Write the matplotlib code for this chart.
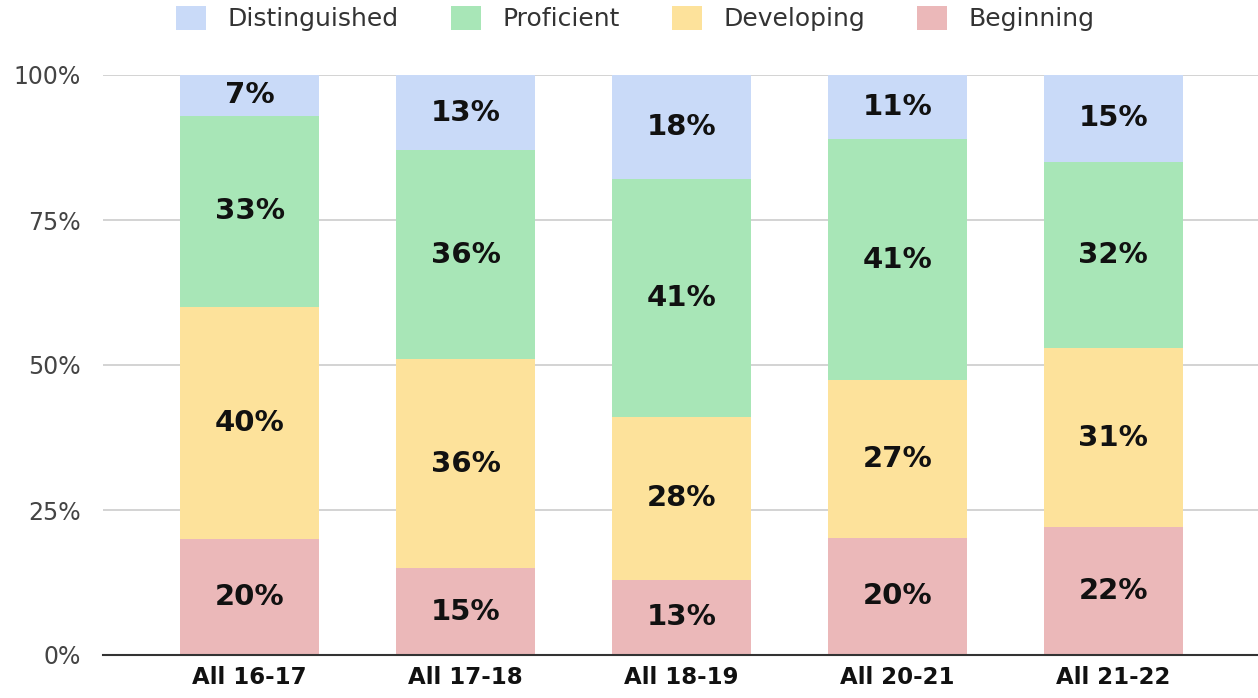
import matplotlib.pyplot as plt
import numpy as np

plt.rcParams['font.family'] = ['DejaVu Sans']

years = ['All 16-17', 'All 17-18', 'All 18-19', 'All 20-21', 'All 21-22']
levels = ['Distinguished', 'Proficient', 'Developing', 'Beginning']
beginning = [20, 15, 13, 20, 22]
developing = [40, 36, 28, 27, 31]
proficient = [33, 36, 41, 41, 32]
distinguished = [7, 13, 18, 11, 15]
colors = {'Distinguished': '#c9daf8', 'Proficient': '#a8e6b7',
          'Developing': '#fde29b', 'Beginning': '#ebb8b9'}

fig = plt.figure(figsize=(12.58, 6.98), dpi=100)
ax = fig.add_axes([103/1258, 1-655/698, 1155/1258, 580/698])

x = np.arange(len(years))
stack = [('Beginning', beginning), ('Developing', developing),
         ('Proficient', proficient), ('Distinguished', distinguished)]
totals = np.sum([s for _, s in stack], axis=0)
bottom = np.zeros(len(years))
handles = {}
for name, vals in stack:
    vals = np.array(vals, dtype=float)
    h = vals / totals * 100  # 100% stacked
    b = ax.bar(x, h, 0.644, bottom=bottom, color=colors[name], label=name, zorder=2)
    handles[name] = b
    for xi, bi, hi, v in zip(x, bottom, h, vals):
        ax.text(xi, bi + hi/2, '%d%%' % v, ha='center', va='center',
                fontsize=21, fontweight='bold', color='#111111', zorder=3)
    bottom += h

ax.set_xlim(-0.68, 4.67)
ax.set_ylim(0, 100)
ax.set_yticks([0, 25, 50, 75, 100])
ax.set_yticklabels(['0%', '25%', '50%', '75%', '100%'], fontsize=17, color='#444444')
ax.set_xticks(x)
ax.set_xticklabels(years, fontsize=16.5, fontweight='bold', color='#111111')
ax.tick_params(length=0, pad=8)
ax.tick_params(axis='y', pad=16)
ax.grid(axis='y', color='#cccccc', linewidth=1.2, zorder=0)
for s in ['top', 'right', 'left']:
    ax.spines[s].set_visible(False)
ax.spines['bottom'].set_color('#333333')
ax.spines['bottom'].set_linewidth(1.5)
ax.spines['bottom'].set_zorder(4)

fig.legend([handles[n] for n in levels], levels, loc='upper center',
           bbox_to_anchor=(0.505, 1.024), ncol=4, frameon=False, fontsize=18,
           handlelength=1.2, handleheight=1.1, handletextpad=0.85,
           columnspacing=2.1, labelcolor='#333333')

fig.savefig('out.png', dpi=100)
